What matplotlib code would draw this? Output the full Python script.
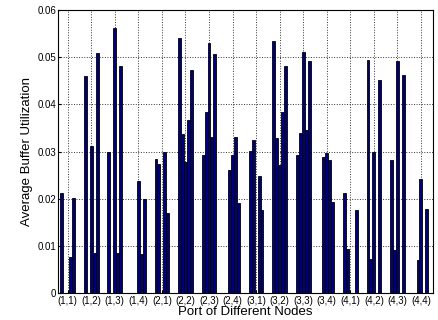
import numpy as np
import matplotlib
matplotlib.use("Agg")
import matplotlib.pyplot as plt

# node labels (row, col)
nodes = ["(1,1)", "(1,2)", "(1,3)", "(1,4)",
         "(2,1)", "(2,2)", "(2,3)", "(2,4)",
         "(3,1)", "(3,2)", "(3,3)", "(3,4)",
         "(4,1)", "(4,2)", "(4,3)", "(4,4)"]

# five ports per node
port1 = [0.0212, 0.0460, 0.0300, 0.0,    0.0284, 0.0540, 0.0292, 0.0,
         0.0301, 0.0534, 0.0293, 0.0,    0.0212, 0.0494, 0.0283, 0.0]
port2 = [0.0,    0.0,    0.0,    0.0,    0.0274, 0.0337, 0.0385, 0.0261,
         0.0325, 0.0330, 0.0340, 0.0288, 0.0095, 0.0072, 0.0091, 0.0071]
port3 = [0.0,    0.0313, 0.0562, 0.0238, 0.0,    0.0279, 0.0530, 0.0292,
         0.0,    0.0272, 0.0511, 0.0298, 0.0,    0.0300, 0.0491, 0.0242]
port4 = [0.0077, 0.0085, 0.0086, 0.0084, 0.0300, 0.0367, 0.0331, 0.0332,
         0.0248, 0.0385, 0.0346, 0.0283, 0.0,    0.0,    0.0,    0.0]
port5 = [0.0201, 0.0508, 0.0482, 0.0199, 0.0171, 0.0472, 0.0506, 0.0191,
         0.0177, 0.0482, 0.0491, 0.0194, 0.0177, 0.0452, 0.0463, 0.0179]

ports = [port1, port2, port3, port4, port5]

plt.rcParams['font.family'] = ['Liberation Sans', 'DejaVu Sans']

fig = plt.figure(figsize=(4.38, 3.2), dpi=100)
ax = fig.add_axes([0.133, 0.083, 0.855, 0.886])

x = np.arange(1, len(nodes) + 1)
w = 0.125
for i, vals in enumerate(ports):
    ax.bar(x + (i - 2) * w, vals, width=w, color='#00007a',
           edgecolor='black', linewidth=0.6, zorder=3)

ax.set_xlim(0.6, 16.5)
ax.set_ylim(0, 0.06)
ax.set_xticks(x)
ax.set_xticklabels(nodes)
ax.set_yticks(np.arange(0, 0.061, 0.01))
ax.set_yticklabels(["0", "0.01", "0.02", "0.03", "0.04", "0.05", "0.06"])
ax.tick_params(direction='in', labelsize=7, length=2, pad=1.5)
ax.grid(True, color='#333333', linestyle=':', linewidth=0.7, zorder=0)
ax.set_axisbelow(True)
for s in ax.spines.values():
    s.set_linewidth(0.8)

ax.set_xlabel("Port of Different Nodes", fontsize=9.5, labelpad=0)
ax.set_ylabel("Average Buffer Utilization", fontsize=9.5, labelpad=3)

fig.savefig("out.png", dpi=100)
